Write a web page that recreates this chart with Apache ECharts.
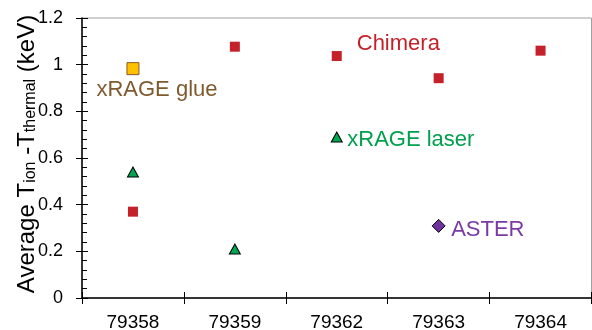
<!DOCTYPE html>
<html><head><meta charset="utf-8">
<script src="https://cdn.jsdelivr.net/npm/echarts/dist/echarts.min.js"></script>
<style>html,body{margin:0;padding:0;background:#fff}#c{width:592px;height:330px}</style>
</head><body><div id="c"></div>
<script>
// ---- data ----
const categories = ['79358', '79359', '79362', '79363', '79364'];
const chimera    = [0.37, 1.077, 1.037, 0.942, 1.06];
const xrageLaser = [0.54, 0.21, 0.69, null, null];
const xrageGlue  = [0.983, null, null, null, null];
const aster      = [null, null, null, 0.309, null];
const yMin = 0, yMax = 1.2, yStep = 0.2;
const seriesNames = ['Chimera', 'xRAGE laser', 'xRAGE glue', 'ASTER'];

const FONT = 'Liberation Sans, Arial, sans-serif';

function withLabel(arr, idx, label) {
  return arr.map((v, i) => i === idx ? { value: v, label: Object.assign({ show: true }, label) } : v);
}

const chart = echarts.init(document.getElementById('c'), null, { renderer: 'canvas' });
const lbl = (color) => ({ color: color, fontSize: 22, fontFamily: FONT, formatter: '{a}' });

chart.setOption({
  animation: false,
  backgroundColor: '#fff',
  grid: { left: 82, right: 0.5, top: 18, bottom: 32, show: true, borderColor: '#a0a0a0', borderWidth: 1,
          containLabel: false, outerBoundsMode: 'none' },
  xAxis: [
    {
      type: 'category', data: categories, position: 'bottom', boundaryGap: true,
      axisLine: { show: true, lineStyle: { color: '#000', width: 1.5 } },
      axisTick: { show: true, inside: false, length: 6, lineStyle: { color: '#000' } },
      axisLabel: { color: '#000', fontSize: 19, fontFamily: FONT, margin: 15 },
      splitLine: { show: false }
    },
    {
      type: 'category', data: categories, position: 'bottom', boundaryGap: true,
      axisLine: { show: false },
      axisTick: { show: true, inside: true, length: 6, lineStyle: { color: '#000' } },
      axisLabel: { show: false }, splitLine: { show: false }
    }
  ],
  yAxis: [
    {
      type: 'value', min: yMin, max: yMax, interval: yStep, position: 'left',
      axisLine: { show: true, lineStyle: { color: '#000', width: 1.5 } },
      axisTick: { show: true, inside: true, length: 6, lineStyle: { color: '#000' } },
      minorTick: { show: true, splitNumber: 5, length: 5, lineStyle: { color: '#000', width: 1 } },
      axisLabel: { color: '#000', fontSize: 18, fontFamily: FONT, margin: 19,
        formatter: v => String(Math.round(v * 10) / 10) },
      splitLine: { show: false },
      name: 'Average T{s|ion} -T{s|thermal} (keV)',
      nameLocation: 'middle', nameRotate: 90, nameGap: 43, nameMoveOverlap: false,
      nameTextStyle: { color: '#000', fontSize: 24, fontFamily: FONT, lineHeight: 24, padding: [0, 0, 0, 8],
        rich: { s: { fontSize: 16, fontFamily: FONT, color: '#000', lineHeight: 6, verticalAlign: 'bottom' } } }
    },
    {
      type: 'value', min: yMin, max: yMax, interval: yStep, position: 'left',
      axisLine: { show: false },
      axisTick: { show: true, inside: false, length: 6, lineStyle: { color: '#000' } },
      axisLabel: { show: false }, splitLine: { show: false }
    }
  ],
  series: [
    {
      name: seriesNames[0], type: 'scatter', xAxisIndex: 0, yAxisIndex: 0,
      symbol: 'rect', symbolSize: 10,
      itemStyle: { color: '#c4212b', opacity: 1 },
      data: withLabel(chimera, 2, Object.assign(lbl('#c4212b'), { position: 'right', distance: 15, offset: [0, -12] }))
    },
    {
      name: seriesNames[1], type: 'scatter', xAxisIndex: 0, yAxisIndex: 0,
      symbol: 'triangle', symbolSize: [11, 10],
      itemStyle: { color: '#00a651', borderColor: '#000', borderWidth: 1, opacity: 1 },
      data: withLabel(xrageLaser, 2, Object.assign(lbl('#00a04f'), { position: 'right', distance: 4.5, offset: [0, 3] }))
    },
    {
      name: seriesNames[2], type: 'scatter', xAxisIndex: 0, yAxisIndex: 0,
      symbol: 'rect', symbolSize: 12,
      itemStyle: { color: '#ffc000', borderColor: '#8b5a2b', borderWidth: 1, opacity: 1 },
      data: withLabel(xrageGlue, 0, Object.assign(lbl('#7f5a2e'), { position: [-30, 28], align: 'left', verticalAlign: 'middle' }))
    },
    {
      name: seriesNames[3], type: 'scatter', xAxisIndex: 0, yAxisIndex: 0,
      symbol: 'diamond', symbolSize: 13,
      itemStyle: { color: '#7030a0', borderColor: '#000', borderWidth: 1, opacity: 1 },
      data: withLabel(aster, 3, Object.assign(lbl('#7a3aa6'), { position: 'right', distance: 5.5, offset: [0, 4] }))
    }
  ]
});
</script>
</body></html>
